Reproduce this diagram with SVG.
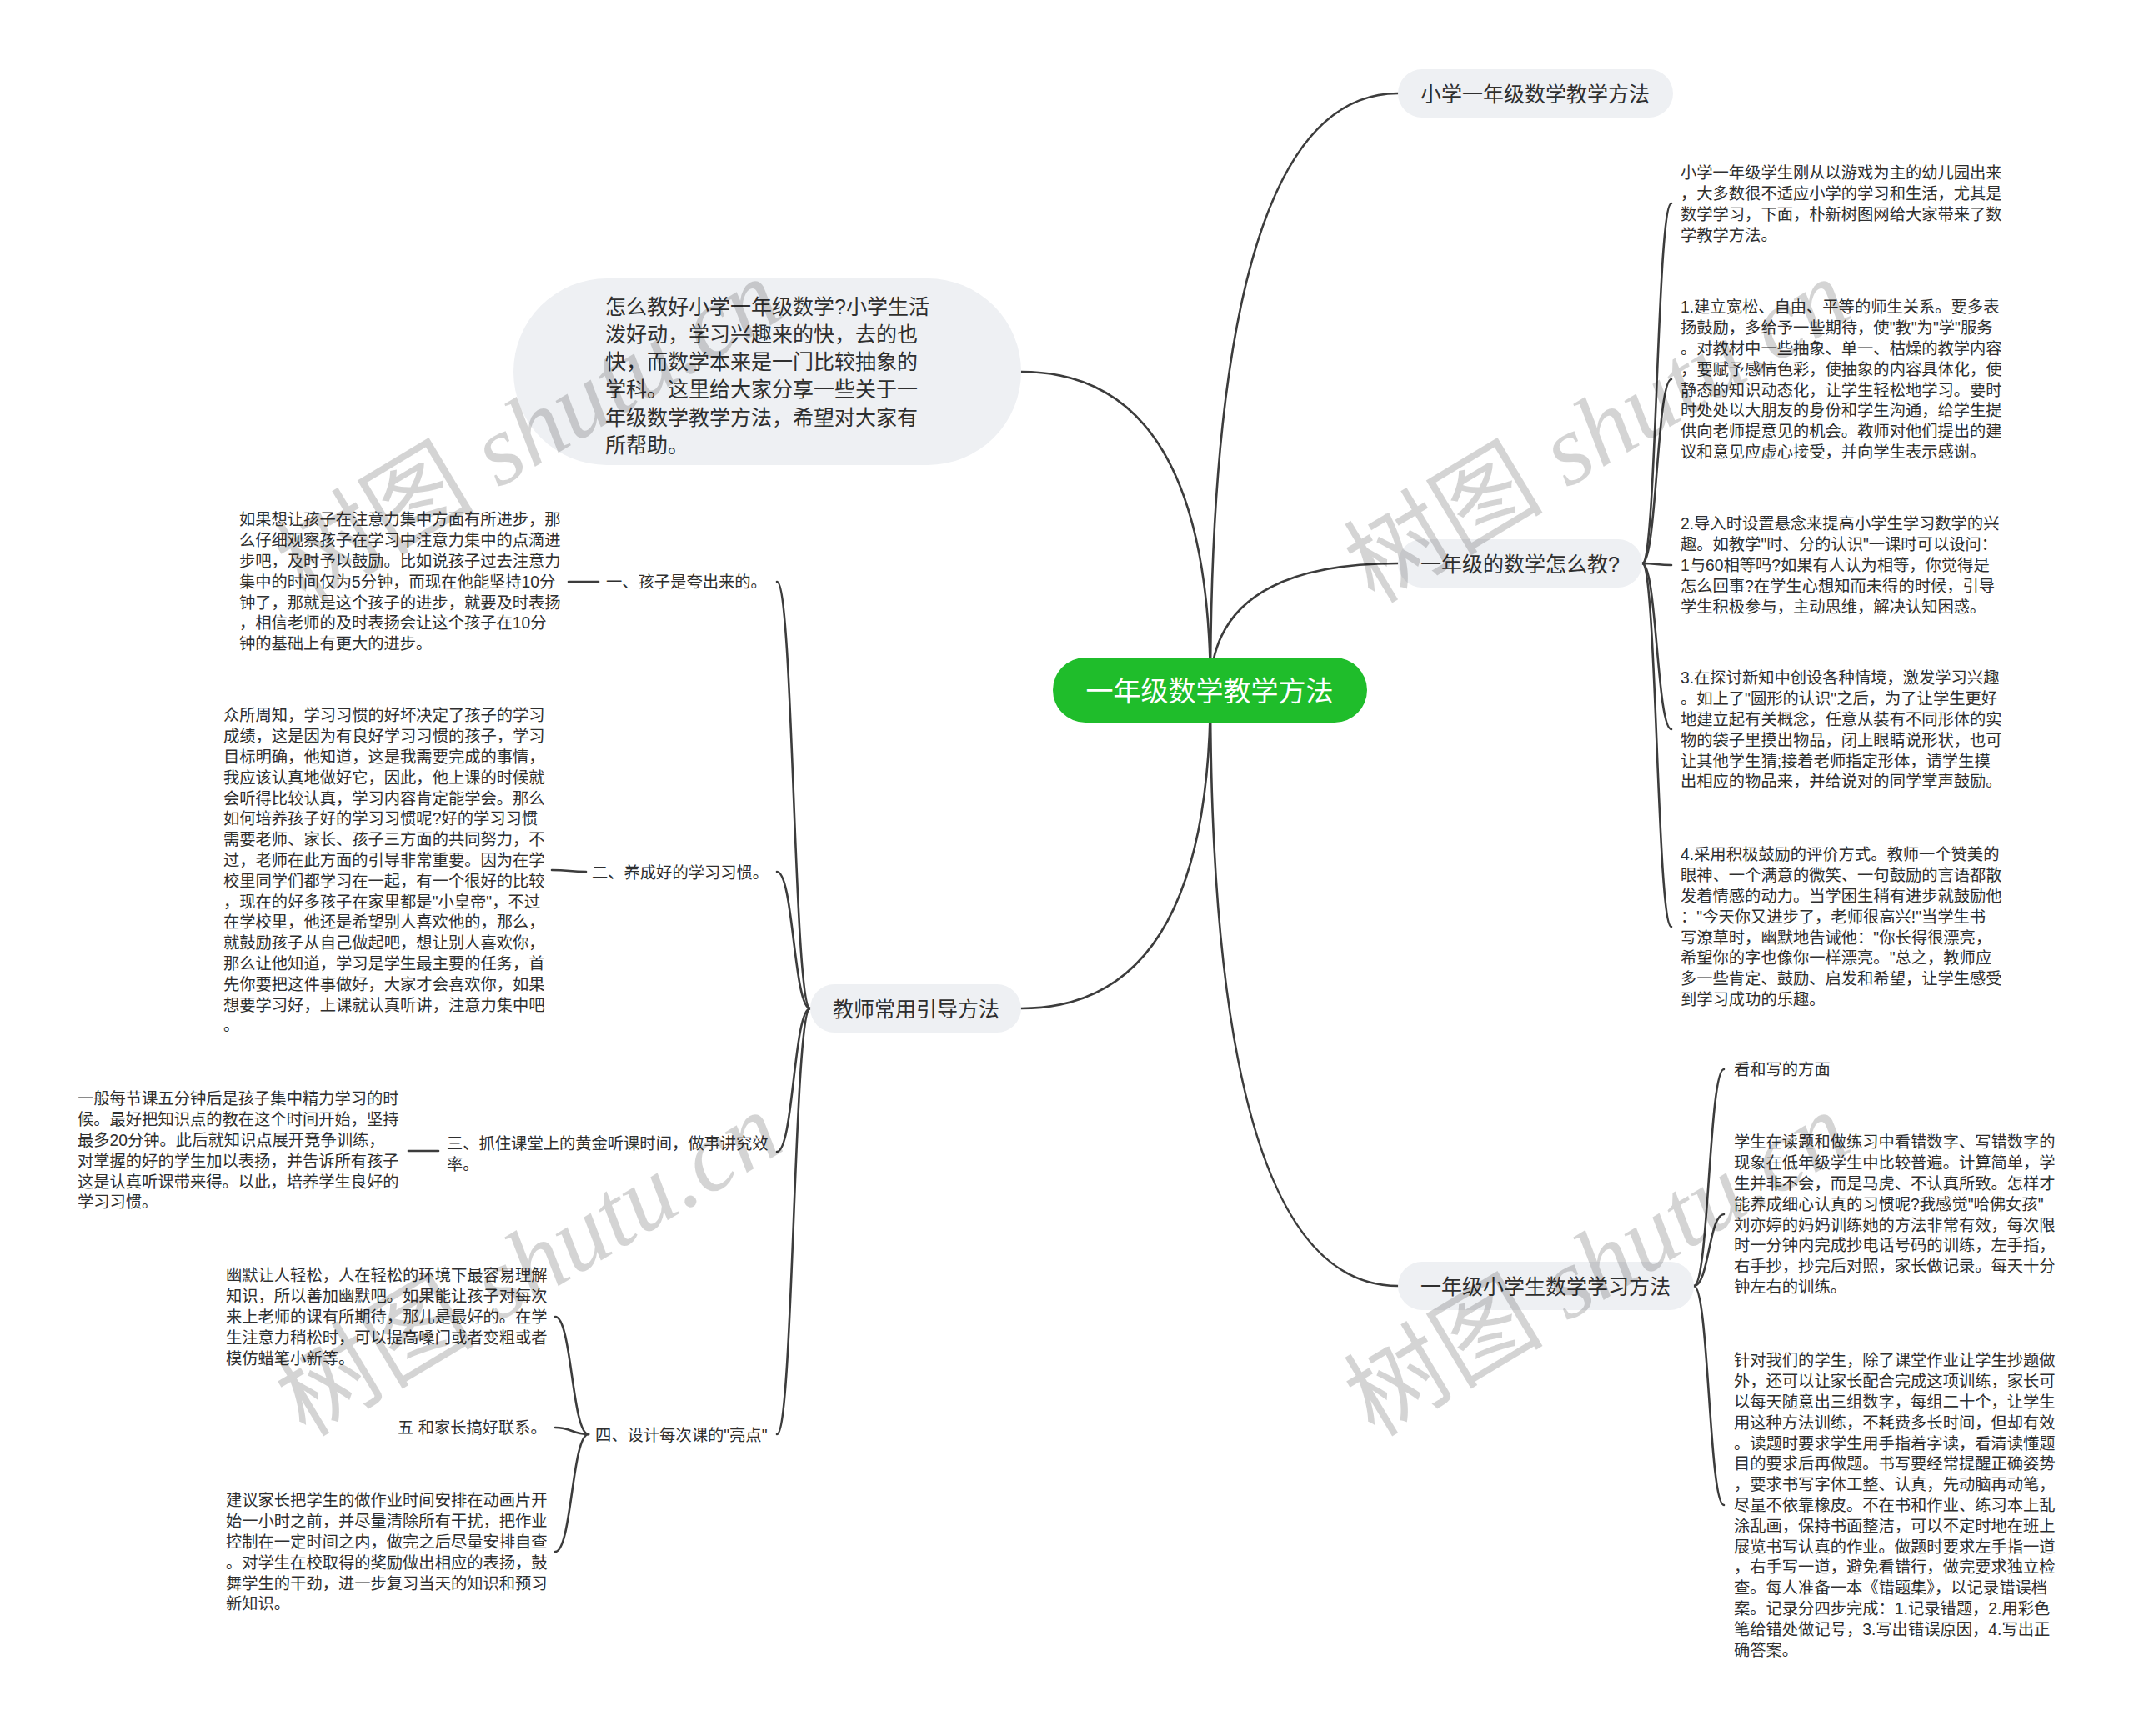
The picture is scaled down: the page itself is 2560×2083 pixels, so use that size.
<svg xmlns="http://www.w3.org/2000/svg" width="2560" height="2083" viewBox="0 0 2560 2083">
<style>
.t{font-family:'Liberation Sans','Noto Sans CJK SC',sans-serif;fill:#2f2f2f}
.p{font-size:19.3px}
.lb{font-size:19.3px}
.n2{font-size:25px}
.pill{fill:#eef0f3}
.ln{fill:none;stroke:#3c3c3c;stroke-width:2.6;stroke-linecap:round}
.wm{font-family:'Liberation Serif','Noto Sans CJK SC',serif;font-style:italic;font-size:120px;fill:#000;fill-opacity:0.17}
.wmc{font-family:'Noto Sans CJK SC',sans-serif;font-style:normal}
</style>
<rect width="2560" height="2083" fill="#ffffff"/>
<g id="connectors">
<path class="ln" d="M1452,828 Q1452,112 1677,112"/>
<path class="ln" d="M1452,828 Q1452,676 1677,676"/>
<path class="ln" d="M1452,828 Q1452,446 1225,446"/>
<path class="ln" d="M1452,828 Q1452,1543 1677,1543"/>
<path class="ln" d="M1452,828 Q1452,1210 1225,1210"/>
<path class="ln" d="M1970,676 C1987.5,676 1987.5,244 2005,244"/>
<path class="ln" d="M1970,676 C1987.5,676 1987.5,455 2005,455"/>
<path class="ln" d="M1970,676 C1987.5,676 1987.5,678 2005,678"/>
<path class="ln" d="M1970,676 C1987.5,676 1987.5,875 2005,875"/>
<path class="ln" d="M1970,676 C1987.5,676 1987.5,1112 2005,1112"/>
<path class="ln" d="M2032,1543 C2050,1543 2050,1283 2068,1283"/>
<path class="ln" d="M2032,1543 C2050,1543 2050,1457 2068,1457"/>
<path class="ln" d="M2032,1543 C2050,1543 2050,1806 2068,1806"/>
<path class="ln" d="M972,1210 C952,1210 952,698 932,698"/>
<path class="ln" d="M972,1210 C952,1210 952,1046 932,1046"/>
<path class="ln" d="M972,1210 C952,1210 952,1382 932,1382"/>
<path class="ln" d="M972,1210 C952,1210 952,1721 932,1721"/>
<path class="ln" d="M706,1721 C686,1721 686,1580 666,1580"/>
<path class="ln" d="M706,1721 C686,1721 686,1713 666,1713"/>
<path class="ln" d="M706,1721 C686,1721 686,1862 666,1862"/>
<path class="ln" d="M718,698 L682,698"/>
<path class="ln" d="M703,1046 C683,1046 683,1044 662,1044"/>
<path class="ln" d="M526,1381 L490,1381"/>
</g>
<g id="root">
<rect x="1263" y="789" width="377" height="78" rx="39" fill="#1fbd2b"/>
<text class="t" x="1451" y="840.5" text-anchor="middle" style="font-size:33px;fill:#ffffff">一年级数学教学方法</text>
</g>
<g id="n-a">
<rect class="pill" x="1677" y="83" width="330" height="58" rx="29"/>
<text class="t n2" x="1704" y="121.5">小学一年级数学教学方法</text>
</g>
<g id="n-b">
<rect class="pill" x="1677" y="647" width="293" height="58" rx="29"/>
<text class="t n2" x="1704" y="685.5">一年级的数学怎么教?</text>
</g>
<g id="n-c">
<rect class="pill" x="1677" y="1514" width="355" height="58" rx="29"/>
<text class="t n2" x="1704" y="1552.5">一年级小学生数学学习方法</text>
</g>
<g id="n-d">
<rect class="pill" x="972" y="1181" width="253" height="58" rx="29"/>
<text class="t n2" x="999" y="1219.5">教师常用引导方法</text>
</g>
<g id="n-e">
<rect class="pill" x="616" y="334" width="609" height="224" rx="112"/>
<text class="t n2" x="726" y="376.5"><tspan x="726">怎么教好小学一年级数学?小学生活</tspan><tspan x="726" dy="33.3">泼好动，学习兴趣来的快，去的也</tspan><tspan x="726" dy="33.3">快，而数学本来是一门比较抽象的</tspan><tspan x="726" dy="33.3">学科。这里给大家分享一些关于一</tspan><tspan x="726" dy="33.3">年级数学教学方法，希望对大家有</tspan><tspan x="726" dy="33.3">所帮助。</tspan></text>
</g>
<g id="n-b1">
<text class="t p" x="2016" y="214.3"><tspan x="2016">小学一年级学生刚从以游戏为主的幼儿园出来</tspan><tspan x="2016" dy="24.8">，大多数很不适应小学的学习和生活，尤其是</tspan><tspan x="2016" dy="24.8">数学学习，下面，朴新树图网给大家带来了数</tspan><tspan x="2016" dy="24.8">学教学方法。</tspan></text>
</g>
<g id="n-b2">
<text class="t p" x="2016" y="375.3"><tspan x="2016">1.建立宽松、自由、平等的师生关系。要多表</tspan><tspan x="2016" dy="24.8">扬鼓励，多给予一些期待，使"教"为"学"服务</tspan><tspan x="2016" dy="24.8">。对教材中一些抽象、单一、枯燥的教学内容</tspan><tspan x="2016" dy="24.8">，要赋予感情色彩，使抽象的内容具体化，使</tspan><tspan x="2016" dy="24.8">静态的知识动态化，让学生轻松地学习。要时</tspan><tspan x="2016" dy="24.8">时处处以大朋友的身份和学生沟通，给学生提</tspan><tspan x="2016" dy="24.8">供向老师提意见的机会。教师对他们提出的建</tspan><tspan x="2016" dy="24.8">议和意见应虚心接受，并向学生表示感谢。</tspan></text>
</g>
<g id="n-b3">
<text class="t p" x="2016" y="635.3"><tspan x="2016">2.导入时设置悬念来提高小学生学习数学的兴</tspan><tspan x="2016" dy="24.8">趣。如教学"时、分的认识"一课时可以设问：</tspan><tspan x="2016" dy="24.8">1与60相等吗?如果有人认为相等，你觉得是</tspan><tspan x="2016" dy="24.8">怎么回事?在学生心想知而未得的时候，引导</tspan><tspan x="2016" dy="24.8">学生积极参与，主动思维，解决认知困惑。</tspan></text>
</g>
<g id="n-b4">
<text class="t p" x="2016" y="820.3"><tspan x="2016">3.在探讨新知中创设各种情境，激发学习兴趣</tspan><tspan x="2016" dy="24.8">。如上了"圆形的认识"之后，为了让学生更好</tspan><tspan x="2016" dy="24.8">地建立起有关概念，任意从装有不同形体的实</tspan><tspan x="2016" dy="24.8">物的袋子里摸出物品，闭上眼睛说形状，也可</tspan><tspan x="2016" dy="24.8">让其他学生猜;接着老师指定形体，请学生摸</tspan><tspan x="2016" dy="24.8">出相应的物品来，并给说对的同学掌声鼓励。</tspan></text>
</g>
<g id="n-b5">
<text class="t p" x="2016" y="1032.3"><tspan x="2016">4.采用积极鼓励的评价方式。教师一个赞美的</tspan><tspan x="2016" dy="24.8">眼神、一个满意的微笑、一句鼓励的言语都散</tspan><tspan x="2016" dy="24.8">发着情感的动力。当学困生稍有进步就鼓励他</tspan><tspan x="2016" dy="24.8">："今天你又进步了，老师很高兴!"当学生书</tspan><tspan x="2016" dy="24.8">写潦草时，幽默地告诫他："你长得很漂亮，</tspan><tspan x="2016" dy="24.8">希望你的字也像你一样漂亮。"总之，教师应</tspan><tspan x="2016" dy="24.8">多一些肯定、鼓励、启发和希望，让学生感受</tspan><tspan x="2016" dy="24.8">到学习成功的乐趣。</tspan></text>
</g>
<g id="n-c1">
<text class="t p" x="2080" y="1290.3">看和写的方面</text>
</g>
<g id="n-c2">
<text class="t p" x="2080" y="1377.3"><tspan x="2080">学生在读题和做练习中看错数字、写错数字的</tspan><tspan x="2080" dy="24.8">现象在低年级学生中比较普遍。计算简单，学</tspan><tspan x="2080" dy="24.8">生并非不会，而是马虎、不认真所致。怎样才</tspan><tspan x="2080" dy="24.8">能养成细心认真的习惯呢?我感觉"哈佛女孩"</tspan><tspan x="2080" dy="24.8">刘亦婷的妈妈训练她的方法非常有效，每次限</tspan><tspan x="2080" dy="24.8">时一分钟内完成抄电话号码的训练，左手指，</tspan><tspan x="2080" dy="24.8">右手抄，抄完后对照，家长做记录。每天十分</tspan><tspan x="2080" dy="24.8">钟左右的训练。</tspan></text>
</g>
<g id="n-c3">
<text class="t p" x="2080" y="1639.3"><tspan x="2080">针对我们的学生，除了课堂作业让学生抄题做</tspan><tspan x="2080" dy="24.8">外，还可以让家长配合完成这项训练，家长可</tspan><tspan x="2080" dy="24.8">以每天随意出三组数字，每组二十个，让学生</tspan><tspan x="2080" dy="24.8">用这种方法训练，不耗费多长时间，但却有效</tspan><tspan x="2080" dy="24.8">。读题时要求学生用手指着字读，看清读懂题</tspan><tspan x="2080" dy="24.8">目的要求后再做题。书写要经常提醒正确姿势</tspan><tspan x="2080" dy="24.8">，要求书写字体工整、认真，先动脑再动笔，</tspan><tspan x="2080" dy="24.8">尽量不依靠橡皮。不在书和作业、练习本上乱</tspan><tspan x="2080" dy="24.8">涂乱画，保持书面整洁，可以不定时地在班上</tspan><tspan x="2080" dy="24.8">展览书写认真的作业。做题时要求左手指一道</tspan><tspan x="2080" dy="24.8">，右手写一道，避免看错行，做完要求独立检</tspan><tspan x="2080" dy="24.8">查。每人准备一本《错题集》，以记录错误档</tspan><tspan x="2080" dy="24.8">案。记录分四步完成：1.记录错题，2.用彩色</tspan><tspan x="2080" dy="24.8">笔给错处做记号，3.写出错误原因，4.写出正</tspan><tspan x="2080" dy="24.8">确答案。</tspan></text>
</g>
<g id="n-d1">
<text class="t lb" x="727" y="705.3">一、孩子是夸出来的。</text>
</g>
<g id="n-d1a">
<text class="t p" x="287" y="630.3"><tspan x="287">如果想让孩子在注意力集中方面有所进步，那</tspan><tspan x="287" dy="24.8">么仔细观察孩子在学习中注意力集中的点滴进</tspan><tspan x="287" dy="24.8">步吧，及时予以鼓励。比如说孩子过去注意力</tspan><tspan x="287" dy="24.8">集中的时间仅为5分钟，而现在他能坚持10分</tspan><tspan x="287" dy="24.8">钟了，那就是这个孩子的进步，就要及时表扬</tspan><tspan x="287" dy="24.8">，相信老师的及时表扬会让这个孩子在10分</tspan><tspan x="287" dy="24.8">钟的基础上有更大的进步。</tspan></text>
</g>
<g id="n-d2">
<text class="t lb" x="710" y="1053.5">二、养成好的学习习惯。</text>
</g>
<g id="n-d2a">
<text class="t p" x="268" y="865.3"><tspan x="268">众所周知，学习习惯的好坏决定了孩子的学习</tspan><tspan x="268" dy="24.8">成绩，这是因为有良好学习习惯的孩子，学习</tspan><tspan x="268" dy="24.8">目标明确，他知道，这是我需要完成的事情，</tspan><tspan x="268" dy="24.8">我应该认真地做好它，因此，他上课的时候就</tspan><tspan x="268" dy="24.8">会听得比较认真，学习内容肯定能学会。那么</tspan><tspan x="268" dy="24.8">如何培养孩子好的学习习惯呢?好的学习习惯</tspan><tspan x="268" dy="24.8">需要老师、家长、孩子三方面的共同努力，不</tspan><tspan x="268" dy="24.8">过，老师在此方面的引导非常重要。因为在学</tspan><tspan x="268" dy="24.8">校里同学们都学习在一起，有一个很好的比较</tspan><tspan x="268" dy="24.8">，现在的好多孩子在家里都是"小皇帝"，不过</tspan><tspan x="268" dy="24.8">在学校里，他还是希望别人喜欢他的，那么，</tspan><tspan x="268" dy="24.8">就鼓励孩子从自己做起吧，想让别人喜欢你，</tspan><tspan x="268" dy="24.8">那么让他知道，学习是学生最主要的任务，首</tspan><tspan x="268" dy="24.8">先你要把这件事做好，大家才会喜欢你，如果</tspan><tspan x="268" dy="24.8">想要学习好，上课就认真听讲，注意力集中吧</tspan><tspan x="268" dy="24.8">。</tspan></text>
</g>
<g id="n-d3">
<text class="t lb" x="536" y="1379"><tspan x="536">三、抓住课堂上的黄金听课时间，做事讲究效</tspan><tspan x="536" dy="25">率。</tspan></text>
</g>
<g id="n-d3a">
<text class="t p" x="93" y="1325.3"><tspan x="93">一般每节课五分钟后是孩子集中精力学习的时</tspan><tspan x="93" dy="24.8">候。最好把知识点的教在这个时间开始，坚持</tspan><tspan x="93" dy="24.8">最多20分钟。此后就知识点展开竞争训练，</tspan><tspan x="93" dy="24.8">对掌握的好的学生加以表扬，并告诉所有孩子</tspan><tspan x="93" dy="24.8">这是认真听课带来得。以此，培养学生良好的</tspan><tspan x="93" dy="24.8">学习习惯。</tspan></text>
</g>
<g id="n-d4">
<text class="t lb" x="714" y="1729">四、设计每次课的"亮点"</text>
</g>
<g id="n-d4a">
<text class="t p" x="271" y="1537.3"><tspan x="271">幽默让人轻松，人在轻松的环境下最容易理解</tspan><tspan x="271" dy="24.8">知识，所以善加幽默吧。如果能让孩子对每次</tspan><tspan x="271" dy="24.8">来上老师的课有所期待，那儿是最好的。在学</tspan><tspan x="271" dy="24.8">生注意力稍松时，可以提高嗓门或者变粗或者</tspan><tspan x="271" dy="24.8">模仿蜡笔小新等。</tspan></text>
</g>
<g id="n-d4b">
<text class="t p" x="477" y="1720.3">五 和家长搞好联系。</text>
</g>
<g id="n-d4c">
<text class="t p" x="271" y="1807.3"><tspan x="271">建议家长把学生的做作业时间安排在动画片开</tspan><tspan x="271" dy="24.8">始一小时之前，并尽量清除所有干扰，把作业</tspan><tspan x="271" dy="24.8">控制在一定时间之内，做完之后尽量安排自查</tspan><tspan x="271" dy="24.8">。对学生在校取得的奖励做出相应的表扬，鼓</tspan><tspan x="271" dy="24.8">舞学生的干劲，进一步复习当天的知识和预习</tspan><tspan x="271" dy="24.8">新知识。</tspan></text>
</g>
<g id="watermarks">
<text class="wm" transform="translate(655,552) rotate(-31)" text-anchor="middle"><tspan class="wmc">树图</tspan> shutu.cn</text>
<text class="wm" transform="translate(1937,552) rotate(-31)" text-anchor="middle"><tspan class="wmc">树图</tspan> shutu.cn</text>
<text class="wm" transform="translate(655,1552) rotate(-31)" text-anchor="middle"><tspan class="wmc">树图</tspan> shutu.cn</text>
<text class="wm" transform="translate(1937,1552) rotate(-31)" text-anchor="middle"><tspan class="wmc">树图</tspan> shutu.cn</text>
</g>
</svg>
